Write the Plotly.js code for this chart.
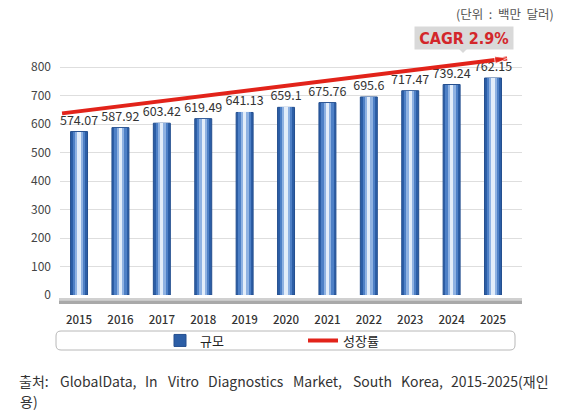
<!DOCTYPE html>
<html><head><meta charset="utf-8">
<script src="https://cdn.plot.ly/plotly-3.0.1.min.js"></script>
<style>html,body{margin:0;padding:0;background:#fff;}#chart{width:565px;height:417px;}</style>
</head><body><div id="chart"></div>
<script>
var years = [2015, 2016, 2017, 2018, 2019, 2020, 2021, 2022, 2023, 2024, 2025];
var marketSize = [574.07, 587.92, 603.42, 619.49, 641.13, 659.1, 675.76, 695.6, 717.47, 739.24, 762.15];
var sizeLabels = ['574.07','587.92','603.42','619.49','641.13','659.1','675.76','695.6','717.47','739.24','762.15'];
var growthX = [2014.59, 2025.34];
var growthY = [638, 831];
var yTicks = [0, 100, 200, 300, 400, 500, 600, 700, 800];
var seriesNames = ['규모', '성장률'];
var unitText = '(단위\u00A0 :\u00A0 백만\u00A0 달러)';
var cagrText = 'CAGR 2.9%';
var sourceWords = ['출처:', 'GlobalData,', 'In', 'Vitro', 'Diagnostics', 'Market,', 'South', 'Korea,', '2015-2025(재인'];
var sourceLine2 = '용)';

var F = '"Noto Sans CJK KR", "Noto Sans", sans-serif';
var barLayers = [
  {w: 0.41, c: '#2c5ea6', line: '#244f8f'},
  {w: 0.30, c: '#4e80c6', line: 'rgba(0,0,0,0)'},
  {w: 0.19, c: '#8fb2e2', line: 'rgba(0,0,0,0)'},
  {w: 0.08, c: '#e3edf9', line: 'rgba(0,0,0,0)'}
];
var traces = [];
barLayers.forEach(function(L, i){
  traces.push({
    type: 'bar', x: years, y: marketSize, width: L.w, name: seriesNames[0],
    showlegend: i === 0, legendrank: 1,
    marker: {color: L.c, line: {color: L.line, width: i === 0 ? 1 : 0}},
    text: i === 0 ? sizeLabels : null,
    textposition: i === 0 ? 'outside' : 'none',
    constraintext: 'none',
    textfont: {family: F, size: 12.5, color: '#333'},
    cliponaxis: false, hoverinfo: 'skip'
  });
});
traces.push({type: 'scatter', mode: 'lines', x: growthX, y: growthY, name: seriesNames[1],
  line: {color: '#e2231a', width: 4}, cliponaxis: false, legendrank: 2});
traces.push({type: 'scatter', mode: 'markers', x: growthX, y: growthY, showlegend: false,
  marker: {symbol: ['circle', 'arrow'], size: [0, 13], angleref: 'previous', color: '#e2231a'},
  cliponaxis: false});

var W = 462, H = 242; // plot px size
function px(x){ return (x - 60) / W; }
function py(y){ return (295 - y) / H; }
function roundRect(x0, y0, x1, y1, r){
  var rx = r / W, ry = r / H;
  var X0 = px(x0), X1 = px(x1), Y0 = py(y0), Y1 = py(y1);
  return 'M' + (X0+rx) + ',' + Y0 + ' L' + (X1-rx) + ',' + Y0 + ' Q' + X1 + ',' + Y0 + ' ' + X1 + ',' + (Y0-ry) +
    ' L' + X1 + ',' + (Y1+ry) + ' Q' + X1 + ',' + Y1 + ' ' + (X1-rx) + ',' + Y1 +
    ' L' + (X0+rx) + ',' + Y1 + ' Q' + X0 + ',' + Y1 + ' ' + X0 + ',' + (Y1+ry) +
    ' L' + X0 + ',' + (Y0-ry) + ' Q' + X0 + ',' + Y0 + ' ' + (X0+rx) + ',' + Y0 + ' Z';
}
var shapes = [
  {type: 'rect', xref: 'paper', yref: 'paper', x0: px(59), x1: px(522), y0: py(298), y1: py(300.5), fillcolor: '#d0d0d0', line: {width: 0}, layer: 'below'},
  {type: 'rect', xref: 'paper', yref: 'paper', x0: px(59), x1: px(522), y0: py(300.5), y1: py(304), fillcolor: '#a9a9a9', line: {width: 0}, layer: 'below'},
  {type: 'path', xref: 'paper', yref: 'paper', path: roundRect(56, 331, 515, 350, 5), fillcolor: '#fff', line: {color: '#b8b8b8', width: 1}, layer: 'below'},
  {type: 'path', xref: 'paper', yref: 'paper', path: 'M' + px(458) + ',' + py(48) + ' L' + px(468) + ',' + py(48) + ' L' + px(463) + ',' + py(53) + ' Z', fillcolor: '#d9d9d9', line: {width: 0}}
];
var annotations = [
  {text: unitText, xref: 'paper', yref: 'paper', x: px(556), y: py(14), xanchor: 'right', yanchor: 'middle',
    showarrow: false, font: {family: F, size: 12.5, color: '#555'}},
  {text: '<b>' + cagrText + '</b>', xref: 'paper', yref: 'paper', x: px(464), y: py(38), xanchor: 'center', yanchor: 'middle',
    showarrow: false, bgcolor: '#d9d9d9', borderpad: 2, width: 94, height: 18,
    font: {family: '"Liberation Sans Narrow", "DejaVu Sans Condensed", sans-serif', size: 16, color: '#d3262a'}},
  {text: sourceLine2, xref: 'paper', yref: 'paper', x: px(18), y: py(401), xanchor: 'left', yanchor: 'middle',
    showarrow: false, font: {family: F, size: 14, color: '#333'}}
];
// source line, spread across the width like the justified reference text
var wordStarts = [18, 59, 144, 167, 207, 292, 352, 400, 450];
sourceWords.forEach(function(w, i){
  annotations.push({text: w, xref: 'paper', yref: 'paper', x: px(wordStarts[i]), y: py(381), xanchor: 'left', yanchor: 'middle',
    showarrow: false, borderpad: 0, font: {family: F, size: 14, color: '#333'}});
});
var layout = {
  width: 565, height: 417,
  margin: {l: 60, r: 43, t: 53, b: 122},
  paper_bgcolor: '#fff', plot_bgcolor: '#fff',
  font: {family: F},
  barmode: 'overlay', bargap: 0,
  showlegend: true,
  legend: {orientation: 'h', x: px(160), xanchor: 'left', y: py(340.5), yanchor: 'middle',
    bgcolor: 'rgba(0,0,0,0)', font: {family: F, size: 13, color: '#222'},
    entrywidth: 98, entrywidthmode: 'pixels', traceorder: 'normal'},
  xaxis: {range: [2014.54, 2025.7], tickvals: years, ticktext: years.map(String),
    showgrid: false, zeroline: false, showline: false,
    ticks: 'outside', ticklen: 14, tickcolor: 'rgba(0,0,0,0)',
    tickfont: {family: F, size: 11.5, color: '#333', weight: 500}},
  yaxis: {range: [0, 850], tickvals: yTicks, showgrid: true, gridcolor: '#dedede', gridwidth: 1,
    zeroline: false, showline: false, ticks: '', ticklabelstandoff: 8,
    tickfont: {family: F, size: 12, color: '#444'}},
  shapes: shapes,
  annotations: annotations
};
Plotly.newPlot('chart', traces, layout, {displayModeBar: false, staticPlot: true});
</script></body></html>
